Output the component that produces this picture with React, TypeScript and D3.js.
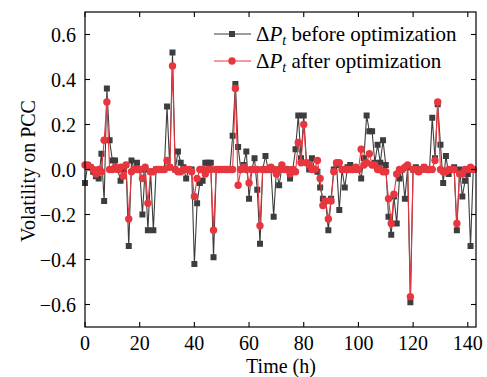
import React from "react";
import * as d3 from "d3";

const before: number[] = [
  -0.06, 0.02, 0.01, -0.01, -0.03, -0.04, 0.07, -0.14, 0.36, 0.13,
  0.04, 0.04, 0.0, -0.05, 0.0, 0.02, -0.34, 0.04, 0.0, 0.03,
  0.0, -0.2, 0.0, -0.27, -0.01, -0.27, 0.0, 0.0, 0.0, 0.0,
  0.28, 0.01, 0.52, 0.0, 0.08, 0.03, 0.01, -0.04, 0.0, 0.0,
  -0.42, -0.15, -0.06, -0.05, 0.03, 0.03, 0.03, -0.39, 0.0, 0.0,
  0.0, 0.0, 0.0, 0.0, 0.15, 0.38, 0.1, 0.0, 0.02, 0.08,
  -0.13, 0.0, 0.05, -0.09, -0.33, 0.0, 0.06, 0.0, 0.0, -0.21,
  0.0, -0.07, 0.01, 0.0, 0.0, -0.04, 0.0, 0.09, 0.24, 0.05,
  0.24, 0.03, 0.0, 0.05, 0.0, -0.01, -0.08, -0.13, -0.14, -0.27,
  -0.13, 0.0, 0.02, -0.18, 0.0, -0.08, 0.01, 0.02, 0.0, 0.0,
  0.0, -0.04, 0.05, 0.24, 0.17, 0.17, 0.03, 0.11, 0.03, 0.13,
  0.02, -0.21, -0.29, -0.12, -0.24, -0.04, 0.0, -0.13, 0.01, -0.59,
  0.0, 0.01, -0.01, 0.0, 0.01, 0.0, 0.0, 0.23, 0.05, 0.29,
  0.11, -0.06, 0.06, -0.02, 0.0, 0.01, -0.27, 0.0, -0.12, -0.05,
  -0.02, -0.34, 0.0,
];

const after: number[] = [
  0.02, 0.02, 0.01, 0.0, -0.02, 0.0, -0.01, 0.13, 0.3, 0.0,
  0.0, 0.01, 0.0, 0.01, -0.03, 0.02, -0.22, -0.01, 0.0, 0.0,
  0.0, -0.04, 0.01, -0.15, -0.01, -0.01, 0.0, 0.0, 0.0, 0.0,
  0.04, 0.01, 0.46, 0.0, -0.01, -0.01, 0.0, 0.0, 0.0, -0.01,
  -0.12, -0.04, 0.0, 0.0, -0.02, 0.0, 0.0, -0.27, 0.0, 0.0,
  0.0, 0.0, 0.0, 0.0, 0.0, 0.36, -0.07, 0.0, 0.01, 0.0,
  -0.06, 0.0, 0.0, 0.0, -0.25, 0.0, 0.0, 0.0, 0.01, 0.0,
  -0.02, 0.0, 0.02, 0.0, 0.0, -0.02, 0.0, -0.01, 0.12, 0.03,
  0.2, 0.03, 0.02, 0.0, 0.0, 0.04, -0.04, -0.16, -0.14, -0.22,
  -0.14, -0.01, 0.03, 0.03, 0.0, 0.0, 0.0, 0.0, 0.0, 0.01,
  0.0, 0.09, 0.02, 0.03, 0.07, 0.02, 0.02, 0.0, 0.0, -0.01,
  -0.01, -0.13, -0.24, -0.11, -0.02, 0.0, 0.0, 0.01, 0.02, -0.565,
  0.0, 0.0, -0.01, 0.0, 0.01, 0.0, 0.0, 0.0, 0.04, 0.3,
  0.0, -0.01, -0.01, 0.0, 0.0, 0.0, -0.24, -0.02, -0.02, 0.0,
  0.0, 0.01, 0.0,
];

const xTicks = [0, 20, 40, 60, 80, 100, 120, 140];
const yTicks = [-0.6, -0.4, -0.2, 0.0, 0.2, 0.4, 0.6];

const W = 487;
const H = 377;
const M = { left: 85, right: 476, top: 12, bottom: 327 };
const BLACK = "#3d3d3d";
const RED = "#e8363f";
const FONT = "'Liberation Serif', 'Times New Roman', serif";

export default function App() {
  const x = d3.scaleLinear().domain([0, 143]).range([M.left, M.right]);
  const y = d3.scaleLinear().domain([-0.7, 0.7]).range([M.bottom, M.top]);
  const line = d3
    .line<number>()
    .x((_, i) => x(i))
    .y((d) => y(d));
  const fmt = (v: number) => (v < 0 ? "\u2212" : "") + Math.abs(v).toFixed(1);
  const tl = 5;

  return (
    <svg width={W} height={H} style={{ position: "absolute", left: 0, top: 0, background: "#fff" }}>
      <rect x={0} y={0} width={W} height={H} fill="#fff" />
      {/* series */}
      <path d={line(before) || ""} fill="none" stroke={BLACK} strokeWidth={1.1} />
      {before.map((v, i) => (
        <rect key={"b" + i} x={x(i) - 3} y={y(v) - 3} width={6} height={6} fill={BLACK} />
      ))}
      <path d={line(after) || ""} fill="none" stroke={RED} strokeWidth={1.1} />
      {after.map((v, i) => (
        <circle key={"a" + i} cx={x(i)} cy={y(v)} r={3.7} fill={RED} />
      ))}
      {/* frame */}
      <rect
        x={M.left}
        y={M.top}
        width={M.right - M.left}
        height={M.bottom - M.top}
        fill="none"
        stroke="#000"
        strokeWidth={1.2}
      />
      {/* ticks */}
      {xTicks.map((t) => (
        <g key={"xt" + t}>
          <line x1={x(t)} x2={x(t)} y1={M.bottom} y2={M.bottom - tl} stroke="#000" strokeWidth={1.1} />
          <line x1={x(t)} x2={x(t)} y1={M.top} y2={M.top + tl} stroke="#000" strokeWidth={1.1} />
          <text x={x(t)} y={349.5} textAnchor="middle" fontFamily={FONT} fontSize={20} fill="#000">
            {t}
          </text>
        </g>
      ))}
      {yTicks.map((t) => (
        <g key={"yt" + t}>
          <line x1={M.left} x2={M.left + tl} y1={y(t)} y2={y(t)} stroke="#000" strokeWidth={1.1} />
          <line x1={M.right} x2={M.right - tl} y1={y(t)} y2={y(t)} stroke="#000" strokeWidth={1.1} />
          <text x={76} y={y(t) + 7} textAnchor="end" fontFamily={FONT} fontSize={20} fill="#000">
            {fmt(t)}
          </text>
        </g>
      ))}
      {/* axis labels */}
      <text x={281} y={372.5} textAnchor="middle" fontFamily={FONT} fontSize={20} fill="#000">
        Time (h)
      </text>
      <text
        transform={`translate(35,171) rotate(-90)`}
        textAnchor="middle"
        fontFamily={FONT}
        fontSize={20}
        fill="#000"
      >
        Volatility on PCC
      </text>
      {/* legend */}
      <line x1={214} x2={251} y1={34} y2={34} stroke={BLACK} strokeWidth={1.1} />
      <rect x={229} y={31} width={6} height={6} fill={BLACK} />
      <text x={256} y={41} fontFamily={FONT} fontSize={21} fill="#000">
        Δ<tspan fontStyle="italic">P</tspan>
        <tspan fontStyle="italic" fontSize={14} dy={4}>t</tspan>
        <tspan dy={-4}> before optimization</tspan>
      </text>
      <line x1={214} x2={251} y1={61} y2={61} stroke={RED} strokeWidth={1.1} />
      <circle cx={232} cy={61} r={3.7} fill={RED} />
      <text x={256} y={68} fontFamily={FONT} fontSize={21} fill="#000">
        Δ<tspan fontStyle="italic">P</tspan>
        <tspan fontStyle="italic" fontSize={14} dy={4}>t</tspan>
        <tspan dy={-4}> after optimization</tspan>
      </text>
    </svg>
  );
}
